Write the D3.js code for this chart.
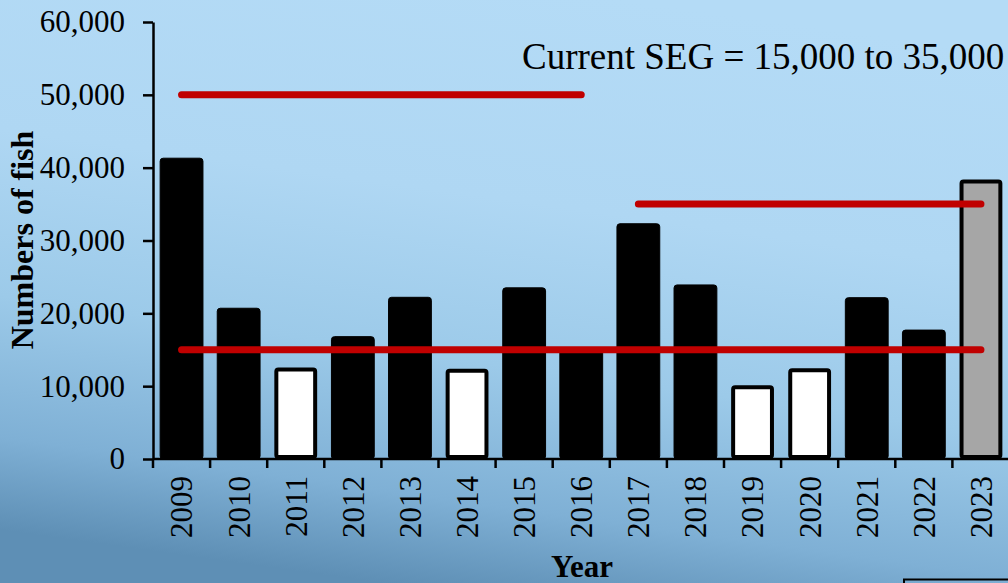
<!DOCTYPE html>
<html>
<head>
<meta charset="utf-8">
<script src="https://cdn.jsdelivr.net/npm/d3@7"></script>
<style>
  html, body { margin: 0; padding: 0; overflow: hidden; }
  svg { display: block; }
</style>
</head>
<body>
<svg id="chart" width="1008" height="583"></svg>
<script>
// ---- data ----
const years = ["2009","2010","2011","2012","2013","2014","2015","2016","2017","2018","2019","2020","2021","2022","2023"];
const fishCounts = [41300, 20700, 12300, 16800, 22200, 12100, 23500, 15000, 32300, 23900, 9850, 12200, 22150, 17700, 38100];
const barTypes = ["met","met","below","met","met","below","met","met","met","met","below","below","met","met","current"];
const yTicks = [0, 10000, 20000, 30000, 40000, 50000, 60000];
const refStartYear = ["2009", "2017", "2009"];
const refEndYear   = ["2016", "2023", "2023"];
const refValue     = [50000, 35000, 15000];
const noteText = "Current SEG = 15,000 to 35,000";
const xTitle = "Year";
const yTitle = "Numbers of fish";

// ---- layout ----
const W = 1008, H = 583;
const plotLeft = 153, plotTop = 22, plotBottom = 459;
const band = 57.1;
const serif = "'Liberation Serif', 'Times New Roman', serif";

const svg = d3.select("#chart");

// background gradient
const defs = svg.append("defs");
const grad = defs.append("linearGradient").attr("id", "bg")
  .attr("x1", "0.62").attr("y1", "0").attr("x2", "0.38").attr("y2", "1");
grad.append("stop").attr("offset", "0").attr("stop-color", "#b4dbf6");
grad.append("stop").attr("offset", "0.35").attr("stop-color", "#afd7f3");
grad.append("stop").attr("offset", "0.62").attr("stop-color", "#9ccae9");
grad.append("stop").attr("offset", "0.85").attr("stop-color", "#7fb0d5");
grad.append("stop").attr("offset", "1").attr("stop-color", "#5e8fb5");
svg.append("rect").attr("width", W).attr("height", H).attr("fill", "url(#bg)");

// scales
const x = d3.scaleBand().domain(years)
  .range([plotLeft, plotLeft + band * years.length])
  .paddingInner(0.25).paddingOuter(0.125);
const y = d3.scaleLinear().domain([0, 60000]).range([plotBottom, plotTop]);

// bars
const fillFor = { met: "#000000", below: "#ffffff", current: "#a6a6a6" };
const g = svg.append("g");
years.forEach((yr, i) => {
  const v = fishCounts[i], t = barTypes[i];
  const bx = x(yr), bw = x.bandwidth();
  if (t === "met") {
    g.append("rect")
      .attr("x", bx).attr("y", y(v))
      .attr("width", bw).attr("height", y(0) - y(v))
      .attr("rx", 3).attr("fill", "#000").attr("stroke", "#000").attr("stroke-width", 1);
  } else {
    g.append("rect")
      .attr("x", bx + 2).attr("y", y(v))
      .attr("width", bw - 4).attr("height", y(0) - 2 - y(v))
      .attr("rx", 2).attr("fill", fillFor[t]).attr("stroke", "#000").attr("stroke-width", 4);
  }
});

// y axis
const yAxis = d3.axisLeft(y).tickValues(yTicks)
  .tickFormat(d3.format(",")).tickSize(10).tickPadding(18).tickSizeOuter(0);
const ya = svg.append("g").attr("transform", `translate(${plotLeft},0)`).call(yAxis);
ya.select(".domain").attr("stroke", "#000").attr("stroke-width", 2.5);
ya.selectAll(".tick line").attr("stroke", "#000").attr("stroke-width", 2.5);
ya.selectAll(".tick text").attr("font-family", serif).attr("font-size", 31).attr("fill", "#000");

// x axis line and boundary ticks
svg.append("line").attr("x1", plotLeft).attr("x2", W).attr("y1", y(0)).attr("y2", y(0))
  .attr("stroke", "#000").attr("stroke-width", 2.5);
const boundaries = years.map(yr => x(yr) - x.step() * x.paddingInner() / 2);
svg.append("g").selectAll("line").data(boundaries).join("line")
  .attr("x1", d => d).attr("x2", d => d)
  .attr("y1", y(0)).attr("y2", y(0) + 9)
  .attr("stroke", "#000").attr("stroke-width", 2.5);

// x tick labels
svg.append("g").selectAll("text").data(years).join("text")
  .attr("transform", d => `translate(${x(d) + x.bandwidth() / 2},${y(0) + 17}) rotate(-90)`)
  .attr("text-anchor", "end").attr("dy", "0.35em")
  .attr("font-family", serif).attr("font-size", 31).attr("fill", "#000")
  .text(d => d);

// reference lines
svg.append("g").selectAll("line").data(refValue).join("line")
  .attr("x1", (d, i) => x(refStartYear[i]) + x.bandwidth() / 2)
  .attr("x2", (d, i) => x(refEndYear[i]) + x.bandwidth() / 2)
  .attr("y1", d => y(d)).attr("y2", d => y(d))
  .attr("stroke", "#c00000").attr("stroke-width", 7).attr("stroke-linecap", "round");

// note text
svg.append("text").attr("x", 522).attr("y", 69)
  .attr("font-family", serif).attr("font-size", 37).attr("fill", "#000")
  .text(noteText);

// axis titles
svg.append("text").attr("x", 582).attr("y", 577).attr("text-anchor", "middle")
  .attr("font-family", serif).attr("font-size", 31).attr("font-weight", "bold").attr("fill", "#000")
  .text(xTitle);
svg.append("text").attr("transform", "translate(33,240) rotate(-90)").attr("text-anchor", "middle")
  .attr("font-family", serif).attr("font-size", 32).attr("font-weight", "bold").attr("fill", "#000")
  .text(yTitle);

// partially visible box at bottom right
svg.append("rect").attr("x", 904).attr("y", 579.5).attr("width", 120).attr("height", 30)
  .attr("fill", "none").attr("stroke", "#000").attr("stroke-width", 2);
</script>
</body>
</html>
